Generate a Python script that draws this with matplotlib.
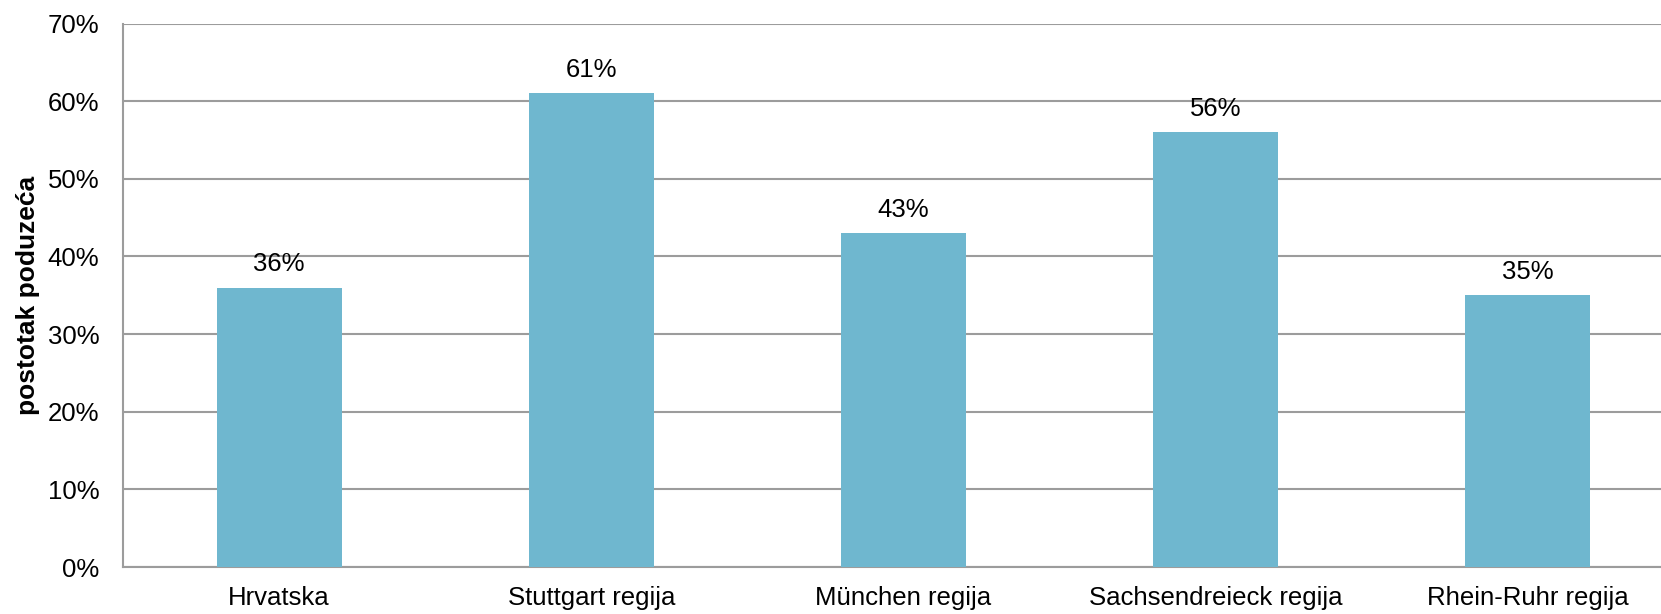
import matplotlib
matplotlib.use("Agg")
import matplotlib.pyplot as plt
from matplotlib.ticker import PercentFormatter

categories = ["Hrvatska", "Stuttgart regija", "München regija",
              "Sachsendreieck regija", "Rhein-Ruhr regija"]
values = [36, 61, 43, 56, 35]
labels = ["36%", "61%", "43%", "56%", "35%"]

BAR = "#6fb7cf"
GRID = "#9c9c9c"
FS = 18.5

plt.rcParams["font.family"] = ["Liberation Sans", "DejaVu Sans"]

fig = plt.figure(figsize=(16.61, 6.14), dpi=100)
ax = fig.add_axes([0.0741, 0.0765, 0.9395, 0.8852])

x = range(len(categories))
bars = ax.bar(x, values, width=0.4, color=BAR, zorder=3)
for b, lab in zip(bars, labels):
    ax.text(b.get_x() + b.get_width() / 2, b.get_height() + 1.5, lab,
            ha="center", va="bottom", fontsize=FS, color="black")

ax.set_xlim(-0.5, 4.5)
ax.set_ylim(0, 70)
ax.set_yticks(range(0, 71, 10))
ax.yaxis.set_major_formatter(PercentFormatter(decimals=0))
ax.set_xticks(list(x))
ax.set_xticklabels(categories)
ax.tick_params(axis="both", length=0, labelsize=FS, colors="black")
ax.tick_params(axis="y", pad=17)
ax.tick_params(axis="x", pad=14)
ax.grid(axis="y", color=GRID, linewidth=1.5, zorder=0)

for side in ["top", "right"]:
    ax.spines[side].set_visible(False)
ax.spines["left"].set_color(GRID)
ax.spines["left"].set_linewidth(1.5)
ax.spines["bottom"].set_color(GRID)
ax.spines["bottom"].set_linewidth(1.5)

ax.set_ylabel("postotak poduzeća", fontsize=19, fontweight="bold", labelpad=6)

fig.savefig("out.png", dpi=100)
